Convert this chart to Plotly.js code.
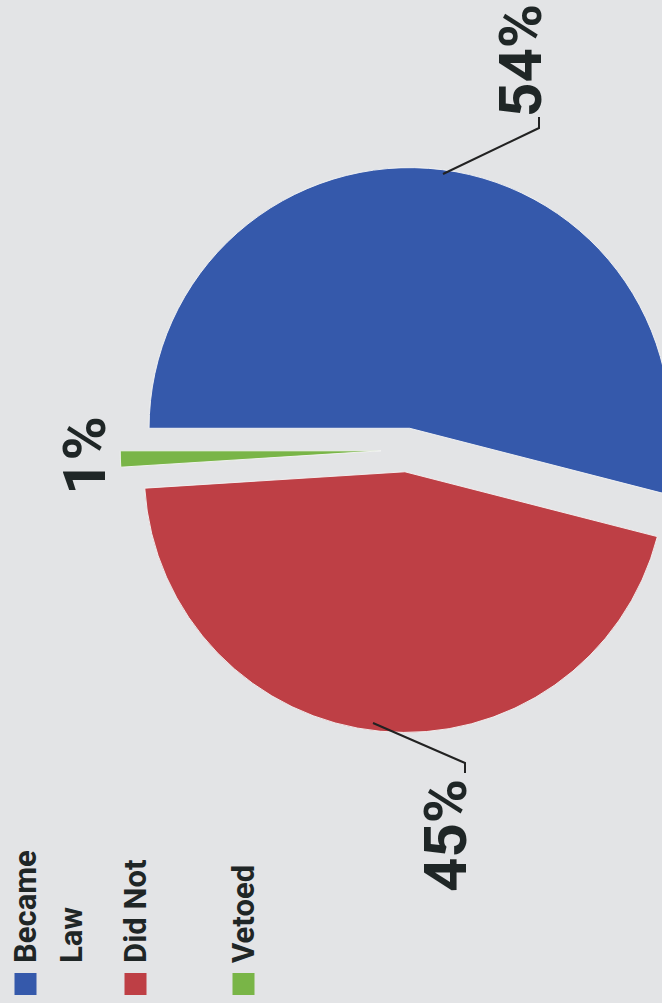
<!DOCTYPE html>
<html>
<head>
<meta charset="utf-8">
<script src="https://cdn.plot.ly/plotly-3.0.1.min.js"></script>
<style>
  html, body { margin: 0; padding: 0; width: 662px; height: 1003px; overflow: hidden; background: #e3e4e6; }
  #chart { position: absolute; left: 0; top: 0; width: 1003px; height: 820px;
           transform-origin: 0 0; transform: translate(0px, 1003px) rotate(-90deg); }
</style>
</head>
<body>
<div id="chart"></div>
<script>
// ---- data ----
const labels = ['Became Law', 'Did Not', 'Vetoed'];
const values = [54, 45, 1];
const colors = ['#3559ab', '#be3f45', '#79b547'];
const pulls = [0.084, 0.084, 0.1];

// ---- layout helpers (drawing is done in an un-rotated 1003 x 820 frame) ----
const W = 1003, H = 820;
const px = x => x / W;
const py = y => 1 - y / H;
const total = values.reduce((a, b) => a + b, 0);
const pctText = values.map(v => Math.round(v / total * 100) + '%');

const textColor = '#1f2626';
const fontFam = 'Roboto, "Liberation Sans", Arial, sans-serif';

// percent label anchor positions (pixels in the un-rotated frame)
const pctPos = [[942, 520], [167, 445], [547, 85]];
// leader lines for the two big slices
const leaders = [
  [[829, 443], [875, 539], [886, 539]],
  [[280, 373], [240, 465], [230, 465]]
];

const annotations = [];
const shapes = [];

pctText.forEach((t, i) => {
  annotations.push({
    xref: 'paper', yref: 'paper', x: px(pctPos[i][0]), y: py(pctPos[i][1]),
    xanchor: 'center', yanchor: 'middle', showarrow: false,
    text: '<b>' + t + '</b>',
    font: { family: fontFam, size: 60, color: textColor }
  });
});

leaders.forEach(pts => {
  shapes.push({
    type: 'path', xref: 'paper', yref: 'paper',
    path: pts.map((p, k) => (k ? 'L' : 'M') + px(p[0]) + ',' + py(p[1])).join(' '),
    line: { color: '#222', width: 2 }
  });
});

// custom legend (stacked at top-left of the un-rotated frame)
const legendRows = [25.5, 135.5, 243.5];
const lineStep = 46;
labels.forEach((lab, i) => {
  const y0 = legendRows[i];
  shapes.push({
    type: 'rect', xref: 'paper', yref: 'paper',
    x0: px(8), x1: px(30), y0: py(y0 - 11), y1: py(y0 + 11),
    fillcolor: colors[i], line: { width: 0 }
  });
  const lines = lab === 'Became Law' ? lab.split(' ') : [lab];
  lines.forEach((ln, k) => {
    annotations.push({
      xref: 'paper', yref: 'paper', x: px(38), y: py(y0 + k * lineStep),
      xanchor: 'left', yanchor: 'middle', showarrow: false,
      text: '<b>' + ln + '</b>',
      font: { family: fontFam, size: 31, color: textColor }
    });
  });
});

const trace = {
  type: 'pie',
  labels: labels,
  values: values,
  sort: false,
  direction: 'clockwise',
  rotation: 0,
  pull: pulls,
  textinfo: 'none',
  hoverinfo: 'skip',
  marker: { colors: colors, line: { color: 'rgba(245,245,245,0.9)', width: 1 } },
  domain: { x: [0.2655, 0.8372], y: [0.1037, 0.9037] }
};

const layout = {
  width: W, height: H,
  margin: { l: 0, r: 0, t: 0, b: 0 },
  paper_bgcolor: '#e3e4e6',
  plot_bgcolor: '#e3e4e6',
  showlegend: false,
  annotations: annotations,
  shapes: shapes
};

Plotly.newPlot('chart', [trace], layout, { staticPlot: true, displayModeBar: false });
</script>
</body>
</html>
